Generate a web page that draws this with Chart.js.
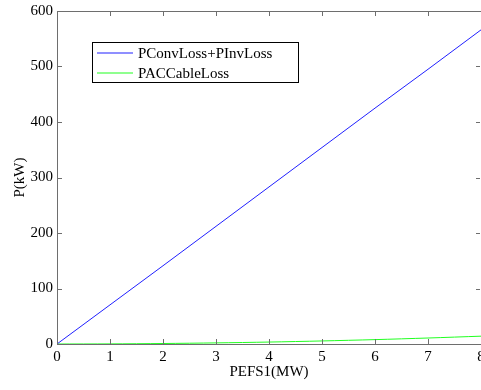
<!DOCTYPE html>
<html>
<head>
<meta charset="utf-8">
<script src="https://cdn.jsdelivr.net/npm/chart.js@4.4.0/dist/chart.umd.min.js"></script>
<style>
  html, body { margin: 0; padding: 0; background: #fff; }
  #wrap { width: 481px; height: 390px; }
</style>
</head>
<body>
<div id="wrap"><canvas id="lossChart" width="481" height="390"></canvas></div>
<script>
// data
const powerMW = [0, 1, 2, 3, 4, 5, 6, 7, 8];
const convInvLoss = [0, 70.5, 141, 212, 283, 354, 425, 495, 566];
const acCableLoss = [0, 0.2, 0.9, 2.0, 3.5, 5.5, 7.9, 10.8, 14.1];
const xTicks = [0, 1, 2, 3, 4, 5, 6, 7, 8];
const yTicks = [0, 100, 200, 300, 400, 500, 600];
const seriesNames = ['PConvLoss+PInvLoss', 'PACCableLoss'];
const seriesColors = ['#2020ff', '#20ff20'];

const serif = "'Liberation Serif', 'DejaVu Serif', serif";
const axisGray = '#6e6e6e';

function toPoints(xs, ys) {
  return xs.map((x, i) => ({ x: x, y: ys[i] }));
}

// matlab style box with inward ticks on all four sides
const boxPlugin = {
  id: 'boxPlugin',
  afterDatasetsDraw(chart) {
    const ctx = chart.ctx;
    const a = chart.chartArea;
    const xs = chart.scales.x;
    const ys = chart.scales.y;
    ctx.save();
    ctx.strokeStyle = axisGray;
    ctx.lineWidth = 1;
    ctx.beginPath();
    ctx.rect(a.left + 0.5, a.top + 0.5, a.right - a.left, a.bottom - a.top);
    xTicks.forEach(v => {
      const px = Math.round(xs.getPixelForValue(v)) + 0.5;
      ctx.moveTo(px, a.bottom); ctx.lineTo(px, a.bottom - 5);
      ctx.moveTo(px, a.top); ctx.lineTo(px, a.top + 5);
    });
    yTicks.forEach(v => {
      const py = Math.round(ys.getPixelForValue(v)) + 0.5;
      ctx.moveTo(a.left, py); ctx.lineTo(a.left + 5, py);
      ctx.moveTo(a.right - 1, py); ctx.lineTo(a.right - 5, py);
    });
    ctx.stroke();
    ctx.restore();
  }
};

// legend box inside the axes, upper left
const legendPlugin = {
  id: 'legendPlugin',
  afterDraw(chart) {
    const ctx = chart.ctx;
    const x0 = 92, y0 = 42, w = 206, h = 40;
    ctx.save();
    ctx.fillStyle = '#fff';
    ctx.fillRect(x0, y0, w, h);
    ctx.strokeStyle = '#000';
    ctx.lineWidth = 1;
    ctx.strokeRect(x0 + 0.5, y0 + 0.5, w, h);
    ctx.font = '15px ' + serif;
    ctx.textBaseline = 'middle';
    chart.data.datasets.forEach((ds, i) => {
      const ly = y0 + 11 + i * 20;
      ctx.strokeStyle = ds.borderColor;
      ctx.lineWidth = 1.2;
      ctx.beginPath();
      ctx.moveTo(97, ly);
      ctx.lineTo(133, ly);
      ctx.stroke();
      ctx.fillStyle = '#000';
      ctx.fillText(ds.label, 138, ly + 1);
    });
    ctx.restore();
  }
};

new Chart(document.getElementById('lossChart'), {
  type: 'line',
  data: {
    datasets: [
      {
        label: seriesNames[0],
        data: toPoints(powerMW, convInvLoss),
        borderColor: seriesColors[0],
        borderWidth: 1,
        pointRadius: 0,
        tension: 0
      },
      {
        label: seriesNames[1],
        data: toPoints(powerMW, acCableLoss),
        borderColor: seriesColors[1],
        borderWidth: 1,
        pointRadius: 0,
        tension: 0.3
      }
    ]
  },
  options: {
    responsive: false,
    animation: false,
    layout: { padding: { left: 11, top: 11, right: 0, bottom: 9 } },
    plugins: {
      legend: { display: false },
      tooltip: { enabled: false }
    },
    scales: {
      x: {
        type: 'linear',
        min: 0,
        max: 8,
        afterFit(scale) { scale.height = 37; scale.paddingRight = 0; scale.paddingLeft = 0; },
        afterBuildTicks(scale) { scale.ticks = xTicks.map(v => ({ value: v })); },
        grid: { display: false, drawTicks: false },
        border: { display: false },
        ticks: { color: '#000', font: { family: serif, size: 15 }, padding: 4, maxRotation: 0 },
        title: { display: true, text: 'PEFS1(MW)', color: '#000', font: { family: serif, size: 15 }, padding: 0 }
      },
      y: {
        type: 'linear',
        min: 0,
        max: 600,
        afterFit(scale) { scale.width = 46; scale.paddingTop = 0; scale.paddingBottom = 0; },
        afterBuildTicks(scale) { scale.ticks = yTicks.map(v => ({ value: v })); },
        grid: { display: false, drawTicks: false },
        border: { display: false },
        ticks: { color: '#000', font: { family: serif, size: 15 }, padding: 4 },
        title: { display: true, text: 'P(kW)', color: '#000', font: { family: serif, size: 15 }, padding: 0 }
      }
    }
  },
  plugins: [boxPlugin, legendPlugin]
});
</script>
</body>
</html>
